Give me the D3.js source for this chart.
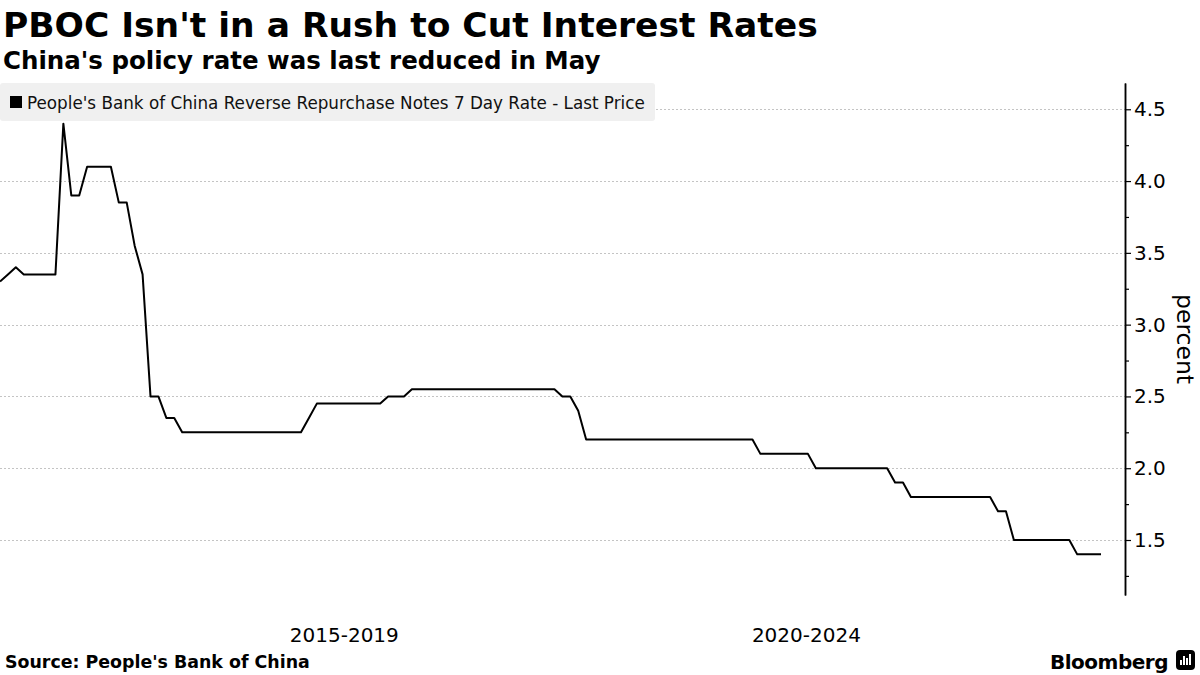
<!DOCTYPE html>
<html>
<head>
<meta charset="utf-8">
<script src="https://cdn.jsdelivr.net/npm/d3@7/dist/d3.min.js"></script>
<style>
  body { margin: 0; background: #fff; }
  svg { display: block; }
</style>
</head>
<body>
<svg id="chart" width="1200" height="675"></svg>
<script>
// Text of the chart
var title = "PBOC Isn't in a Rush to Cut Interest Rates";
var subtitle = "China's policy rate was last reduced in May";
var seriesName = "People's Bank of China Reverse Repurchase Notes 7 Day Rate - Last Price";
var sourceText = "Source: People's Bank of China";

// 7 day reverse repo rate, one sample per point (Oct 2013 -> Sep 2025)
var rate = [
    3.3, 3.35, 3.4, 3.35, 3.35, 3.35, 3.35, 3.35,
    4.4, 3.9, 3.9, 4.1, 4.1, 4.1, 4.1, 3.85, 3.85, 3.55, 3.35,
    2.5, 2.5, 2.35, 2.35,
    2.25, 2.25, 2.25, 2.25, 2.25, 2.25, 2.25, 2.25,
    2.25, 2.25, 2.25, 2.25, 2.25, 2.25, 2.25, 2.25,
    2.35,
    2.45, 2.45, 2.45, 2.45, 2.45, 2.45, 2.45, 2.45, 2.45,
    2.5, 2.5, 2.5,
    2.55, 2.55, 2.55, 2.55, 2.55, 2.55, 2.55, 2.55, 2.55, 2.55,
    2.55, 2.55, 2.55, 2.55, 2.55, 2.55, 2.55, 2.55, 2.55,
    2.5, 2.5, 2.4,
    2.2, 2.2, 2.2, 2.2, 2.2, 2.2, 2.2, 2.2, 2.2, 2.2, 2.2,
    2.2, 2.2, 2.2, 2.2, 2.2, 2.2, 2.2, 2.2, 2.2, 2.2, 2.2,
    2.1, 2.1, 2.1, 2.1, 2.1, 2.1, 2.1,
    2.0, 2.0, 2.0, 2.0, 2.0, 2.0, 2.0, 2.0, 2.0, 2.0,
    1.9, 1.9,
    1.8, 1.8, 1.8, 1.8, 1.8, 1.8, 1.8, 1.8, 1.8, 1.8, 1.8,
    1.7, 1.7,
    1.5, 1.5, 1.5, 1.5, 1.5, 1.5, 1.5, 1.5,
    1.4, 1.4, 1.4, 1.4
];

// time span covered by the samples, and the period labels under the chart
var firstDate = new Date(2013, 9, 10);
var lastDate = new Date(2025, 8, 9);
var periodLabels = ["2015-2019", "2020-2024"];
var periodStart = [2015, 2020];
var periodEnd = [2020, 2025];

// y axis
var yDomain = [1.117, 4.683];
var yTicks = [1.5, 2.0, 2.5, 3.0, 3.5, 4.0, 4.5];
var yMinorTicks = [1.25, 1.75, 2.25, 2.75, 3.25, 3.75, 4.25];

var plot = { left: 0, lastX: 1101, axisX: 1125, top: 83, bottom: 595 };

var svg = d3.select("#chart");

var x = d3.scaleLinear()
    .domain([0, rate.length - 1])
    .range([plot.left, plot.lastX]);

var xTime = d3.scaleTime()
    .domain([firstDate, lastDate])
    .range([plot.left, plot.lastX]);

var y = d3.scaleLinear()
    .domain(yDomain)
    .range([plot.bottom, plot.top]);

// dotted grid lines
svg.append("g")
    .selectAll("line")
    .data(yTicks)
    .enter()
    .append("line")
    .attr("x1", plot.left)
    .attr("x2", plot.axisX)
    .attr("y1", function (d) { return Math.round(y(d)) + 0.5; })
    .attr("y2", function (d) { return Math.round(y(d)) + 0.5; })
    .attr("stroke", "#c4c4c4")
    .attr("stroke-width", 1)
    .attr("stroke-dasharray", "2,2");

// legend box
var legend = svg.append("g");
legend.append("rect")
    .attr("x", 0)
    .attr("y", 83)
    .attr("width", 655)
    .attr("height", 38)
    .attr("rx", 3)
    .attr("fill", "#f0f0f0");
legend.append("rect")
    .attr("x", 10)
    .attr("y", 96)
    .attr("width", 12)
    .attr("height", 12)
    .attr("fill", "#000");
legend.append("text")
    .attr("x", 27)
    .attr("y", 108.5)
    .style("font-family", "'DejaVu Sans', sans-serif")
    .style("font-size", "16.8px")
    .attr("fill", "#111")
    .text(seriesName);

// the rate line
var line = d3.line()
    .x(function (d, i) { return x(i); })
    .y(function (d) { return y(d); });

svg.append("path")
    .datum(rate)
    .attr("fill", "none")
    .attr("stroke", "#000")
    .attr("stroke-width", 2)
    .attr("stroke-linejoin", "round")
    .attr("d", line);

// right axis, major ticks with labels
var yAxis = svg.append("g")
    .attr("transform", "translate(" + plot.axisX + ",0)")
    .call(d3.axisRight(y)
        .tickValues(yTicks)
        .tickSize(6)
        .tickSizeOuter(0)
        .tickPadding(3)
        .tickFormat(d3.format(".1f")));

// minor ticks
svg.append("g")
    .attr("transform", "translate(" + plot.axisX + ",0)")
    .call(d3.axisRight(y)
        .tickValues(yMinorTicks)
        .tickSize(4)
        .tickSizeOuter(0)
        .tickFormat(""));

svg.selectAll(".domain").attr("stroke", "#000").attr("stroke-width", 1.5);
svg.selectAll(".tick line").attr("stroke", "#000").attr("stroke-width", 1.2);
yAxis.selectAll("text")
    .style("font-family", "'DejaVu Sans', sans-serif")
    .style("font-size", "20px")
    .attr("fill", "#000");

svg.append("text")
    .attr("transform", "translate(1177,339) rotate(90)")
    .attr("text-anchor", "middle")
    .style("font-family", "'DejaVu Sans', sans-serif")
    .style("font-size", "23.5px")
    .text("percent");

// period labels, centred on each five-year span
svg.append("g")
    .selectAll("text")
    .data(periodLabels)
    .enter()
    .append("text")
    .attr("x", function (d, i) {
        return (xTime(new Date(periodStart[i], 0, 1)) + xTime(new Date(periodEnd[i], 0, 1))) / 2;
    })
    .attr("y", 642)
    .attr("text-anchor", "middle")
    .style("font-family", "'DejaVu Sans', sans-serif")
    .style("font-size", "20px")
    .text(function (d) { return d; });

// titles
svg.append("text")
    .attr("x", 3)
    .attr("y", 37)
    .style("font-family", "'DejaVu Sans', sans-serif")
    .style("font-weight", "bold")
    .style("font-size", "34.5px")
    .text(title);

svg.append("text")
    .attr("x", 3)
    .attr("y", 69)
    .style("font-family", "'DejaVu Sans', sans-serif")
    .style("font-weight", "bold")
    .style("font-size", "24.5px")
    .text(subtitle);

// footer
svg.append("text")
    .attr("x", 5)
    .attr("y", 668)
    .style("font-family", "'DejaVu Sans', sans-serif")
    .style("font-weight", "bold")
    .style("font-size", "17.4px")
    .text(sourceText);

svg.append("text")
    .attr("x", 1168)
    .attr("y", 669)
    .attr("text-anchor", "end")
    .style("font-family", "'DejaVu Sans', sans-serif")
    .style("font-weight", "bold")
    .style("font-size", "20px")
    .style("letter-spacing", "-0.5px")
    .text("Bloomberg");

// little logo mark
var mark = svg.append("g").attr("transform", "translate(1176,650)");
mark.append("rect").attr("width", 19).attr("height", 20).attr("rx", 4).attr("fill", "#000");
mark.selectAll("line.bar")
    .data([7, 11, 9, 13])
    .enter()
    .append("rect")
    .attr("x", function (d, i) { return 4 + i * 3; })
    .attr("y", function (d) { return 17 - d; })
    .attr("width", 2)
    .attr("height", function (d) { return d - 2; })
    .attr("fill", "#fff");
</script>
</body>
</html>
